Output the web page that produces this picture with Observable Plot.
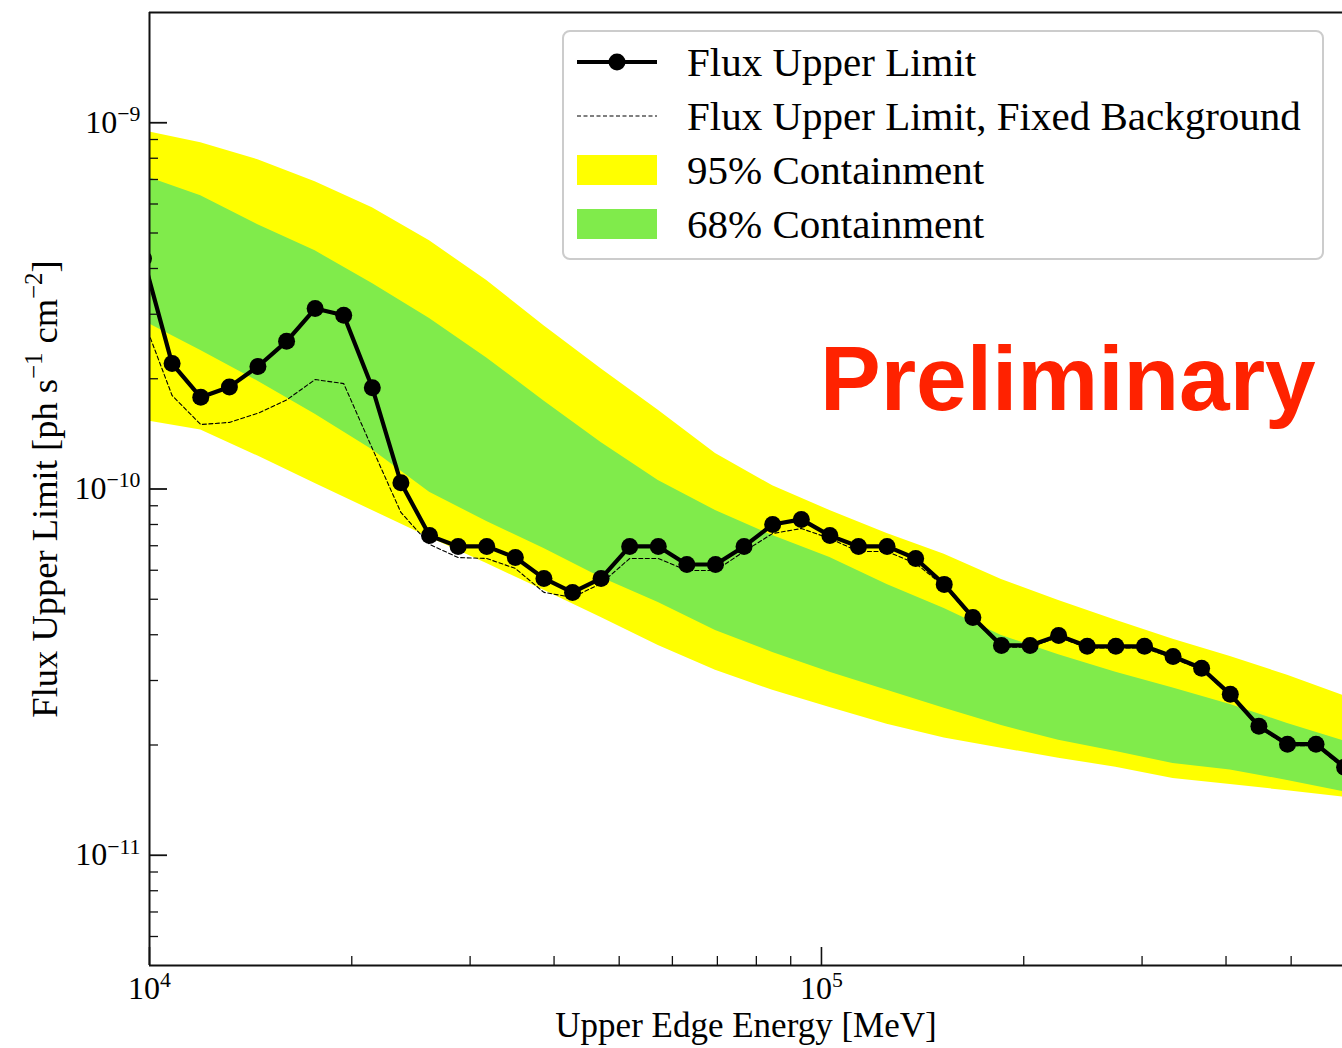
<!DOCTYPE html>
<html><head><meta charset="utf-8">
<script src="https://cdn.jsdelivr.net/npm/d3@7"></script>
<script src="https://cdn.jsdelivr.net/npm/@observablehq/plot@0.6"></script>
<style>
html,body{margin:0;padding:0;background:#fff;}
#wrap{position:relative;width:1342px;height:1048px;overflow:hidden;background:#fff;}
#wrap svg{display:block;}
.ov{position:absolute;left:0;top:0;pointer-events:none;}
</style></head><body><div id="wrap"></div>
<script>
// ---------------- data ----------------
const energy = [9795, 10805, 11920, 13150, 14500, 15995, 17640, 19454, 21458, 23667,
  26106, 28795, 31760, 35030, 38636, 42614, 46990, 51830, 57170, 63050,
  69550, 76700, 84600, 93330, 102920, 113530, 125200, 138100, 152300, 168000,
  185300, 204400, 225400, 248600, 274200, 302500, 333600, 367900, 405900, 447700,
  493800, 544500, 600500];
const fluxUL = [4.26e-10, 2.20e-10, 1.78e-10, 1.90e-10, 2.16e-10, 2.53e-10, 3.11e-10, 2.98e-10, 1.89e-10, 1.04e-10,
  7.46e-11, 6.97e-11, 6.97e-11, 6.50e-11, 5.70e-11, 5.22e-11, 5.70e-11, 6.97e-11, 6.97e-11, 6.22e-11,
  6.22e-11, 6.97e-11, 8.00e-11, 8.26e-11, 7.46e-11, 6.97e-11, 6.97e-11, 6.46e-11, 5.49e-11, 4.46e-11,
  3.74e-11, 3.74e-11, 3.98e-11, 3.72e-11, 3.72e-11, 3.72e-11, 3.49e-11, 3.24e-11, 2.75e-11, 2.25e-11,
  2.01e-11, 2.01e-11, 1.74e-11];
const fluxULFixedBkg = [2.90e-10, 1.80e-10, 1.50e-10, 1.52e-10, 1.61e-10, 1.75e-10, 1.99e-10, 1.94e-10, 1.29e-10, 8.63e-11,
  7.06e-11, 6.50e-11, 6.46e-11, 6.07e-11, 5.22e-11, 5.06e-11, 5.52e-11, 6.46e-11, 6.46e-11, 5.99e-11,
  5.99e-11, 6.75e-11, 7.56e-11, 7.80e-11, 7.33e-11, 6.75e-11, 6.75e-11, 6.26e-11, 5.43e-11, 4.42e-11,
  3.70e-11, 3.70e-11, 3.94e-11, 3.68e-11, 3.68e-11, 3.68e-11, 3.45e-11, 3.21e-11, 2.72e-11, 2.23e-11,
  1.99e-11, 1.99e-11, 1.72e-11];

const bandEnergy = [9795, 11920, 14500, 17640, 21458, 26106, 31760, 38636, 46990, 57170, 69550,
  84600, 102920, 125200, 152300, 185300, 225400, 274200, 333600, 405900, 493800, 600500];
const band95High = [9.51e-10, 8.82e-10, 7.93e-10, 6.90e-10, 5.86e-10, 4.76e-10, 3.71e-10, 2.79e-10, 2.13e-10, 1.64e-10, 1.25e-10,
  1.02e-10, 8.74e-11, 7.56e-11, 6.63e-11, 5.66e-11, 4.96e-11, 4.38e-11, 3.89e-11, 3.49e-11, 3.10e-11, 2.72e-11];
const band68High = [7.17e-10, 6.32e-10, 5.27e-10, 4.47e-10, 3.64e-10, 2.92e-10, 2.28e-10, 1.74e-10, 1.34e-10, 1.055e-10, 8.74e-11,
  7.46e-11, 6.50e-11, 5.49e-11, 4.72e-11, 3.98e-11, 3.53e-11, 3.16e-11, 2.86e-11, 2.58e-11, 2.29e-11, 2.05e-11];
const band68Low = [2.88e-10, 2.39e-10, 1.97e-10, 1.60e-10, 1.28e-10, 9.8e-11, 8.15e-11, 6.88e-11, 5.73e-11, 4.90e-11, 4.11e-11,
  3.58e-11, 3.16e-11, 2.82e-11, 2.52e-11, 2.26e-11, 2.06e-11, 1.92e-11, 1.78e-11, 1.71e-11, 1.60e-11, 1.49e-11];
const band95Low = [1.54e-10, 1.45e-10, 1.23e-10, 1.035e-10, 8.74e-11, 7.37e-11, 6.26e-11, 5.29e-11, 4.46e-11, 3.74e-11, 3.20e-11,
  2.82e-11, 2.53e-11, 2.28e-11, 2.09e-11, 1.96e-11, 1.84e-11, 1.74e-11, 1.62e-11, 1.56e-11, 1.50e-11, 1.44e-11];

const xDomain = [1e4, 5.962e5];
const yDomain = [5e-12, 2e-9];
const xMajorTicks = [1e4, 1e5];
const xTickLabels = ["10^4", "10^5"];
const xMinorTicks = [2e4, 3e4, 4e4, 5e4, 6e4, 7e4, 8e4, 9e4, 2e5, 3e5, 4e5, 5e5];
const yMajorTicks = [1e-11, 1e-10, 1e-9];
const yTickLabels = ["10^−11", "10^−10", "10^−9"];
const yMinorTicks = [6e-12, 7e-12, 8e-12, 9e-12,
  2e-11, 3e-11, 4e-11, 5e-11, 6e-11, 7e-11, 8e-11, 9e-11,
  2e-10, 3e-10, 4e-10, 5e-10, 6e-10, 7e-10, 8e-10, 9e-10];
const seriesNames = ["Flux Upper Limit", "Flux Upper Limit, Fixed Background", "95% Containment", "68% Containment"];
const xLabel = "Upper Edge Energy [MeV]";
const watermark = "Preliminary";

// ---------------- styles ----------------
const YELLOW = "#ffff00", GREEN = "#80eb4b", RED = "#ff2200";
const SERIF = "'Liberation Serif', 'Times New Roman', serif";
const W = 1342, H = 1048, mL = 149, mR = 0, mT = 12, mB = 83;
const innerW = W - mL - mR, innerH = H - mT - mB;

const ul = energy.map((e, i) => ({e, f: fluxUL[i], fb: fluxULFixedBkg[i]}));
const bands = bandEnergy.map((e, i) => ({e, lo95: band95Low[i], hi95: band95High[i], lo68: band68Low[i], hi68: band68High[i]}));

const chart = Plot.plot({
  width: W, height: H,
  marginLeft: mL, marginRight: mR, marginTop: mT, marginBottom: mB,
  style: {fontFamily: SERIF, fontSize: "32px", color: "#000", background: "white"},
  x: {type: "log", domain: xDomain},
  y: {type: "log", domain: yDomain},
  marks: [
    Plot.areaY(bands, {x: "e", y1: "lo95", y2: "hi95", fill: YELLOW, clip: true}),
    Plot.areaY(bands, {x: "e", y1: "lo68", y2: "hi68", fill: GREEN, clip: true}),
    Plot.line(ul, {x: "e", y: "fb", stroke: "#000", strokeWidth: 1.1, strokeDasharray: "4,2.5", clip: true}),
    Plot.line(ul, {x: "e", y: "f", stroke: "#000", strokeWidth: 4.2, clip: true}),
    Plot.dot(ul, {x: "e", y: "f", r: 8.5, fill: "#000", stroke: "none", clip: true}),
    Plot.tickX(xMinorTicks, {x: d => d, insetTop: innerH - 9, stroke: "#111", strokeWidth: 1.3}),
    Plot.tickX(xMajorTicks, {x: d => d, insetTop: innerH - 18, stroke: "#111", strokeWidth: 1.6}),
    Plot.tickY(yMinorTicks, {y: d => d, insetRight: innerW - 9, stroke: "#111", strokeWidth: 1.3}),
    Plot.tickY(yMajorTicks, {y: d => d, insetRight: innerW - 18, stroke: "#111", strokeWidth: 1.8}),
    Plot.ruleX([xDomain[0]], {stroke: "#111", strokeWidth: 2}),
    Plot.ruleY([yDomain[0]], {stroke: "#111", strokeWidth: 2}),
    Plot.ruleY([yDomain[1]], {stroke: "#111", strokeWidth: 2}),
    Plot.axisX(xMajorTicks, {tickSize: 0, tickPadding: 11, label: null,
      tickFormat: d => xTickLabels[xMajorTicks.indexOf(d)]}),
    Plot.axisY(yMajorTicks, {tickSize: 0, tickPadding: 9, label: null,
      tickFormat: d => yTickLabels[yMajorTicks.findIndex(v => Math.abs(v - d) / v < 1e-6)]})
  ]
});
document.getElementById("wrap").appendChild(chart);

// superscript formatting for tick labels "10^n"
chart.querySelectorAll("text").forEach(t => {
  const s = t.textContent;
  if (s.includes("^")) {
    const [base, exp] = s.split("^");
    t.textContent = base;
    const ts = document.createElementNS("http://www.w3.org/2000/svg", "tspan");
    ts.setAttribute("font-size", "0.68em");
    ts.setAttribute("dy", "-0.55em");
    ts.textContent = exp;
    t.appendChild(ts);
  }
});

// ---------------- overlay: legend, axis titles, watermark ----------------
const ov = d3.select("#wrap").append("svg").attr("class", "ov").attr("width", W).attr("height", H)
  .style("font-family", SERIF);

// legend
const lg = ov.append("g");
lg.append("rect").attr("x", 563).attr("y", 31).attr("width", 760).attr("height", 228).attr("rx", 7)
  .attr("fill", "white").attr("fill-opacity", 0.85).attr("stroke", "#cccccc").attr("stroke-width", 2);
const rowY = [62, 116, 170, 224];
lg.append("line").attr("x1", 577).attr("x2", 657).attr("y1", rowY[0]).attr("y2", rowY[0])
  .attr("stroke", "#000").attr("stroke-width", 4.2);
lg.append("circle").attr("cx", 617).attr("cy", rowY[0]).attr("r", 8.5).attr("fill", "#000");
lg.append("line").attr("x1", 577).attr("x2", 657).attr("y1", rowY[1]).attr("y2", rowY[1])
  .attr("stroke", "#000").attr("stroke-width", 1.1).attr("stroke-dasharray", "4,2.5");
lg.append("rect").attr("x", 577).attr("y", rowY[2] - 15).attr("width", 80).attr("height", 30).attr("fill", YELLOW);
lg.append("rect").attr("x", 577).attr("y", rowY[3] - 15).attr("width", 80).attr("height", 30).attr("fill", GREEN);
seriesNames.forEach((name, i) => {
  lg.append("text").attr("x", 687).attr("y", rowY[i]).attr("dy", "0.34em")
    .attr("font-size", 41).attr("fill", "#000").text(name);
});

// x title
ov.append("text").attr("x", 746).attr("y", 1037).attr("text-anchor", "middle")
  .attr("font-size", 35).attr("fill", "#000").text(xLabel);

// y title with superscripts
const yt = ov.append("text").attr("transform", "translate(57,489) rotate(-90)")
  .attr("text-anchor", "middle").attr("font-size", 36.5).attr("fill", "#000");
yt.append("tspan").text("Flux Upper Limit [ph s");
yt.append("tspan").attr("font-size", "0.68em").attr("dy", "-0.6em").text("−1");
yt.append("tspan").attr("dy", "0.41em").text(" cm");
yt.append("tspan").attr("font-size", "0.68em").attr("dy", "-0.6em").text("−2");
yt.append("tspan").attr("dy", "0.41em").text("]");

// watermark
ov.append("text").attr("x", 820).attr("y", 410)
  .attr("font-family", "'Liberation Sans', Arial, sans-serif").attr("font-weight", "bold")
  .attr("font-size", 91).attr("fill", RED).text(watermark);
</script></body></html>
